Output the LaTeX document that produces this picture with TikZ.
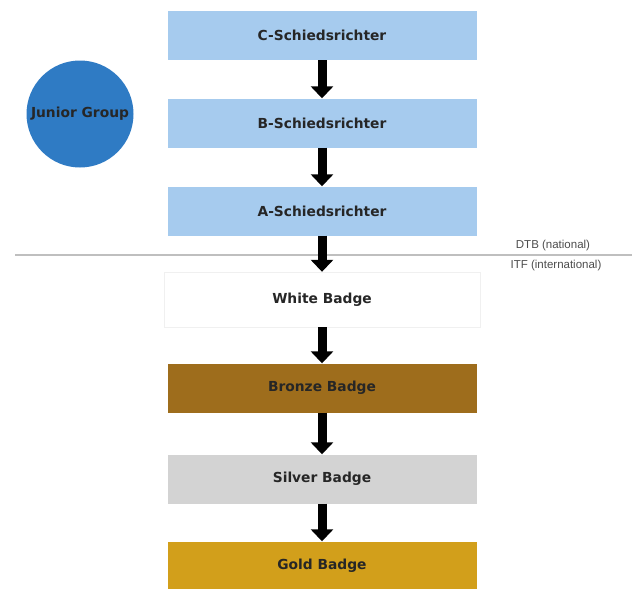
\documentclass[tikz,border=0pt]{standalone}
\usepackage{fontspec}
\setmainfont{DejaVu Sans}
\newfontfamily\notefont{Liberation Sans}
\usepackage{tikz}
\usetikzlibrary{positioning, arrows.meta}
\definecolor{refblue}{HTML}{A6CBEE}
\definecolor{juniorblue}{HTML}{2F7BC4}
\definecolor{bronze}{HTML}{9E6D1C}
\definecolor{silver}{HTML}{D3D3D3}
\definecolor{gold}{HTML}{D29F1B}

\begin{document}
\begin{tikzpicture}[x=1pt,y=-1pt,
  level/.style={shape=rectangle, minimum width=309pt, minimum height=49pt, inner sep=0pt,
    text=black!85, font=\bfseries\fontsize{13.8}{16}\selectfont},
  promote/.style={line width=9pt, -{Triangle[width=22pt,length=12pt]}}]
  \useasboundingbox (0,0) rectangle (632,589);

  \node[shape=circle,fill=juniorblue,minimum size=107pt,inner sep=0pt,text=black!85,
    font=\bfseries\fontsize{13.8}{16}\selectfont] (junior) at (80,114) {Junior Group};

  \node[level,fill=refblue] (C) at (322,35.5) {C-Schiedsrichter};
  \node[level,fill=refblue] (B) at (322,123) {B-Schiedsrichter};
  \path [promote] (C) edge (B);
  \node[level,fill=refblue] (A) at (322,211) {A-Schiedsrichter};
  \path [promote] (B) edge (A);

  \coordinate (lineL) at (15,255);
  \coordinate (lineR) at (632,255);
  \draw[black!25, line width=1.2pt] (lineL) -- (lineR);
  \node[font=\notefont\fontsize{11.5}{13}\selectfont,text=black!70] (dtb) at (553,246) {DTB (national)};
  \node[font=\notefont\fontsize{11.5}{13}\selectfont,text=black!70] (itf) at (556,266) {ITF (international)};

  \node[level,draw=black!6,fill=white,minimum width=316pt,minimum height=55pt] (white) at (322,299.5) {White Badge};
  \path [promote] (A) edge (white);
  \node[level,fill=bronze] (bronze) at (322,388) {Bronze Badge};
  \path [promote] (white) edge (bronze);
  \node[level,fill=silver] (silver) at (322,479) {Silver Badge};
  \path [promote] (bronze) edge (silver);
  \node[level,fill=gold] (gold) at (322,566) {Gold Badge};
  \path [promote] (silver) edge (gold);

\end{tikzpicture}
\end{document}
